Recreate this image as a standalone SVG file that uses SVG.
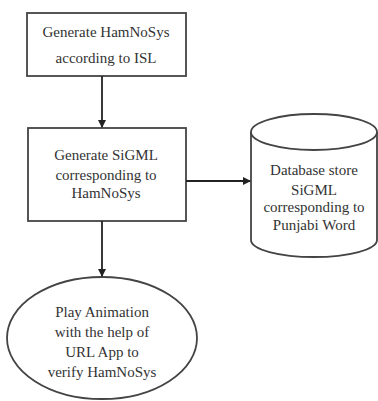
<svg xmlns="http://www.w3.org/2000/svg" width="378" height="401" viewBox="0 0 378 401">
<defs>
<marker id="ah" markerWidth="8" markerHeight="8" refX="7" refY="4" orient="auto" markerUnits="userSpaceOnUse">
<path d="M0,0 L8,4 L0,8 Z" fill="#222"/>
</marker>
<style>
.s{fill:#fff;stroke:#444;stroke-width:1.8}
.t{font-size:15px;fill:#333;text-anchor:middle}
.c{stroke:#222;stroke-width:1.8;fill:none;marker-end:url(#ah)}
</style>
</defs>
<rect width="378" height="401" fill="#fff"/>
<g font-family="Liberation Serif, serif">
<g id="n1">
<rect class="s" x="27" y="13" width="159" height="63"/>
<text class="t" x="106" y="37">Generate HamNoSys</text>
<text class="t" x="106" y="63">according to ISL</text>
</g>
<g id="n2">
<rect class="s" x="28" y="128" width="158" height="93"/>
<text class="t" x="106" y="160">Generate SiGML</text>
<text class="t" x="106" y="180">corresponding to</text>
<text class="t" x="106" y="198">HamNoSys</text>
</g>
<g id="n3">
<path class="s" d="M251,132 L251,240 A63,17 0 0 0 377,240 L377,132"/>
<ellipse class="s" cx="314" cy="132" rx="63" ry="18"/>
<text class="t" x="314" y="175">Database store</text>
<text class="t" x="314" y="195">SiGML</text>
<text class="t" x="314" y="212">corresponding to</text>
<text class="t" x="314" y="230">Punjabi Word</text>
</g>
<g id="n4">
<ellipse class="s" cx="102" cy="338" rx="95" ry="61"/>
<text class="t" x="102" y="317">Play Animation</text>
<text class="t" x="102" y="337">with the help of</text>
<text class="t" x="102" y="357">URL App to</text>
<text class="t" x="102" y="377">verify HamNoSys</text>
</g>
</g>
<g id="connectors">
<line class="c" x1="102" y1="76" x2="102" y2="127"/>
<line class="c" x1="186" y1="181" x2="250" y2="181"/>
<line class="c" x1="102" y1="221" x2="102" y2="276"/>
</g>
</svg>
